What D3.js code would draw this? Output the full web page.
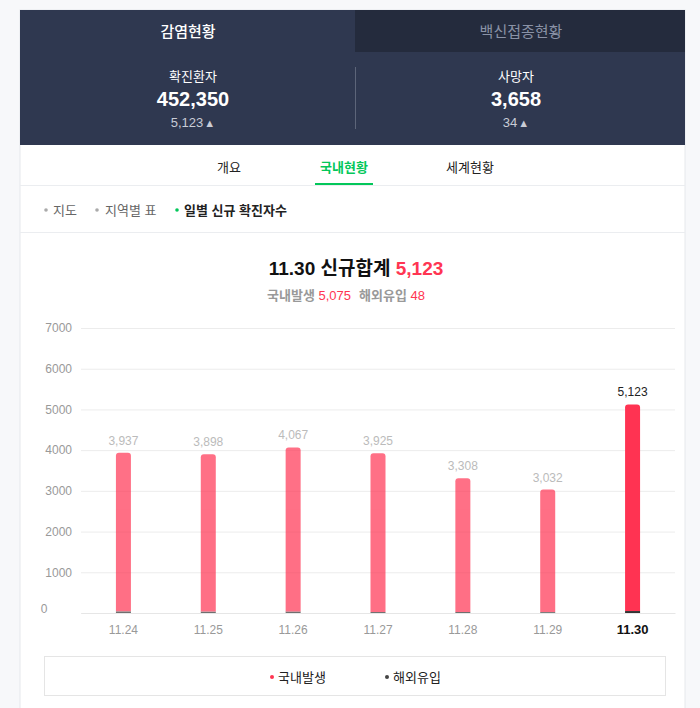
<!DOCTYPE html>
<html><head><meta charset="utf-8">
<script src="https://cdn.jsdelivr.net/npm/d3@7"></script>
<style>
html,body{margin:0;padding:0;background:#f7f8fa;}
svg{display:block;font-family:"Liberation Sans","Noto Sans CJK KR",sans-serif;}
</style></head>
<body><svg id="c" width="700" height="708"></svg>
<script>
// ---- data ----
const categories = ["11.24","11.25","11.26","11.27","11.28","11.29","11.30"];
const totals     = [3937, 3898, 4067, 3925, 3308, 3032, 5123];
const overseas   = [40, 36, 38, 24, 27, 22, 48];
const domestic   = totals.map((t,i)=>t-overseas[i]);
const yTicks     = [0,1000,2000,3000,4000,5000,6000,7000];
const seriesNames = ["국내발생","해외유입"];
const headerTabs = ["감염현황","백신접종현황"];
const stats = [{label:"확진환자", value:"452,350", delta:"5,123"},{label:"사망자", value:"3,658", delta:"34"}];
const navTabs = ["개요","국내현황","세계현황"];
const subTabs = ["지도","지역별 표","일별 신규 확진자수"];

const svg = d3.select("#c");
const L=20, R=685;

// panel
svg.append("rect").attr("x",L).attr("y",10).attr("width",R-L).attr("height",708).attr("fill","#fff").attr("stroke","#e6e8eb");
// header
svg.append("rect").attr("x",L).attr("y",10).attr("width",R-L).attr("height",135).attr("fill","#2f3850");
svg.append("rect").attr("x",355).attr("y",10).attr("width",R-355).attr("height",42).attr("fill","#242b3d");
svg.append("text").attr("x",188).attr("y",37).attr("text-anchor","middle").attr("fill","#fff").attr("font-size",15).attr("font-weight",500).text(headerTabs[0]);
svg.append("text").attr("x",521).attr("y",37).attr("text-anchor","middle").attr("fill","#8a92a6").attr("font-size",15).text(headerTabs[1]);
svg.append("line").attr("x1",355.5).attr("x2",355.5).attr("y1",67).attr("y2",129).attr("stroke","#5d6579");
[193,516].forEach((cx,i)=>{
  const s=stats[i];
  svg.append("text").attr("x",cx).attr("y",81).attr("text-anchor","middle").attr("fill","#fff").attr("font-size",13).text(s.label);
  svg.append("text").attr("x",cx).attr("y",106).attr("text-anchor","middle").attr("fill","#fff").attr("font-size",20).attr("font-weight","bold").text(s.value);
  const t=svg.append("text").attr("x",cx).attr("y",127).attr("text-anchor","middle").attr("fill","#c9ccd6").attr("font-size",13);
  t.append("tspan").text(s.delta);
  t.append("tspan").attr("font-size",11).attr("dx",1).text("▲");
});
// nav
const navX=[229,344,470];
navTabs.forEach((n,i)=>{
  svg.append("text").attr("x",navX[i]).attr("y",172).attr("text-anchor","middle").attr("font-size",13)
    .attr("fill",i===1?"#03c75a":"#222").attr("font-weight",i===1?"bold":"normal").text(n);
});
svg.append("line").attr("x1",L).attr("x2",R).attr("y1",185.5).attr("y2",185.5).attr("stroke","#ebedf0");
svg.append("rect").attr("x",315).attr("y",183).attr("width",58).attr("height",2).attr("fill","#03c75a");
// subnav
const subX=[[46,53],[97,105],[177,184]];
subTabs.forEach((n,i)=>{
  svg.append("circle").attr("cx",subX[i][0]).attr("cy",210).attr("r",1.8).attr("fill",i===2?"#03c75a":"#aaa");
  svg.append("text").attr("x",subX[i][1]).attr("y",215).attr("font-size",13)
    .attr("fill",i===2?"#222":"#666").attr("font-weight",i===2?"bold":"normal").text(n);
});
svg.append("line").attr("x1",L).attr("x2",R).attr("y1",232.5).attr("y2",232.5).attr("stroke","#ebedf0");

// title
const last=categories.length-1;
const tt=svg.append("text").attr("x",356).attr("y",275).attr("text-anchor","middle").attr("font-size",19).attr("font-weight","bold").attr("fill","#111");
tt.append("tspan").text(categories[last]+" 신규합계 ");
tt.append("tspan").attr("fill","#ff3552").text(d3.format(",")(totals[last]));
const st=svg.append("text").attr("x",346).attr("y",300).attr("text-anchor","middle").attr("font-size",13).attr("fill","#999");
st.append("tspan").attr("font-weight","bold").text(seriesNames[0]+" ");
st.append("tspan").attr("fill","#ff3552").text(d3.format(",")(domestic[last]));
st.append("tspan").attr("font-weight","bold").attr("dx",8).text(seriesNames[1]+" ");
st.append("tspan").attr("fill","#ff3552").text(overseas[last]);

// scales
const y=d3.scaleLinear().domain([0,7000]).range([613,328]);
const x=d3.scaleBand().domain(categories).range([81,675]);
const bw=15;

// grid + y axis
const ya=svg.append("g").attr("transform","translate(81,0)")
  .call(d3.axisLeft(y).tickValues(yTicks).tickSize(-594).tickFormat(d3.format("d")).tickPadding(9));
ya.select(".domain").remove();
ya.selectAll(".tick line").attr("stroke","#ececec");
ya.selectAll(".tick text").attr("fill","#999").attr("font-size",12).attr("font-family","Liberation Sans, sans-serif");
ya.selectAll(".tick").filter(d=>d===0).select("text").attr("text-anchor","middle").attr("x",-37).attr("dy","-0.02em");

// bars
const g=svg.append("g");
function topRound(x0,y0,w,h,r){
  r=Math.min(r,h);
  return `M${x0},${y0+h}V${y0+r}Q${x0},${y0} ${x0+r},${y0}H${x0+w-r}Q${x0+w},${y0} ${x0+w},${y0+r}V${y0+h}Z`;
}
categories.forEach((c,i)=>{
  const cx=x(c)+x.bandwidth()/2, x0=cx-bw/2;
  const op=i===last?1:0.7;
  const bg=g.append("g").attr("opacity",op);
  bg.append("rect").attr("x",x0).attr("width",bw).attr("y",y(overseas[i])).attr("height",y(0)-y(overseas[i])).attr("fill","#333");
  bg.append("path").attr("d",topRound(x0,y(totals[i]),bw,y(overseas[i])-y(totals[i]),3)).attr("fill","#ff3352");
  svg.append("text").attr("x",cx).attr("y",y(totals[i])-8).attr("text-anchor","middle").attr("font-size",12)
    .attr("fill",i===last?"#222":"#bbb").text(d3.format(",")(totals[i]));
});

// x axis
const xa=svg.append("g").attr("transform","translate(0,613)").call(d3.axisBottom(x).tickSize(0).tickPadding(12));
xa.select(".domain").attr("stroke","#e6e6e6");
xa.selectAll(".tick text").attr("fill","#999").attr("font-size",12).attr("font-family","Liberation Sans, sans-serif");
xa.selectAll(".tick").filter(d=>d===categories[last]).select("text").attr("fill","#111").attr("font-weight","bold").attr("font-size",13);

// legend
svg.append("rect").attr("x",44.5).attr("y",656.5).attr("width",621).attr("height",39).attr("fill","#fff").attr("stroke","#e5e5e5");
const legX=[[272,278],[387,393]], legC=["#ff3552","#444"];
seriesNames.forEach((n,i)=>{
  svg.append("circle").attr("cx",legX[i][0]).attr("cy",677).attr("r",2).attr("fill",legC[i]);
  svg.append("text").attr("x",legX[i][1]).attr("y",682).attr("font-size",13).attr("fill","#222").text(n);
});
</script></body></html>
